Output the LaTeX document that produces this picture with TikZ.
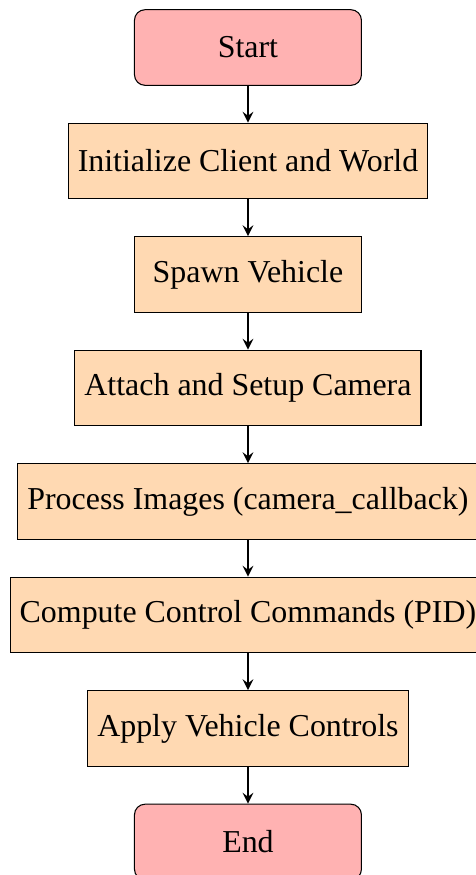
\documentclass[tikz,border=0pt]{standalone}
\usepackage{fontspec}
\setmainfont{Liberation Serif}
\usetikzlibrary{arrows,positioning}

\tikzset{
  startstop/.style={rectangle, rounded corners=4pt, minimum width=3cm, minimum height=1cm,
    text centered, draw=black, line width=0.4pt, fill=red!30},
  process/.style={rectangle, minimum width=3cm, minimum height=1cm,
    text centered, draw=black, line width=0.4pt, fill=orange!30, inner sep=0.36em},
  flowarrow/.style={thick, -stealth}
}

\begin{document}
\begin{tikzpicture}[font=\fontsize{12}{14}\selectfont]
  \useasboundingbox (-3.277,0.628) rectangle (3.013,-10.936);

  \node (start)   [startstop] at (0,0)    {Start};
  \node (init)    [process]   at (0,-1.5) {Initialize Client and World};
  \node (spawn)   [process]   at (0,-3.0) {Spawn Vehicle};
  \node (camera)  [process]   at (0,-4.5) {Attach and Setup Camera};
  \node (images)  [process]   at (0,-6.0) {Process Images (camera\_callback)};
  \node (pid)     [process]   at (0,-7.5) {Compute Control Commands (PID)};
  \node (apply)   [process]   at (0,-9.0) {Apply Vehicle Controls};
  \node (stop)    [startstop] at (0,-10.5) {End};

  \draw [flowarrow] (start)  -- (init);
  \draw [flowarrow] (init)   -- (spawn);
  \draw [flowarrow] (spawn)  -- (camera);
  \draw [flowarrow] (camera) -- (images);
  \draw [flowarrow] (images) -- (pid);
  \draw [flowarrow] (pid)    -- (apply);
  \draw [flowarrow] (apply)  -- (stop);
\end{tikzpicture}
\end{document}
